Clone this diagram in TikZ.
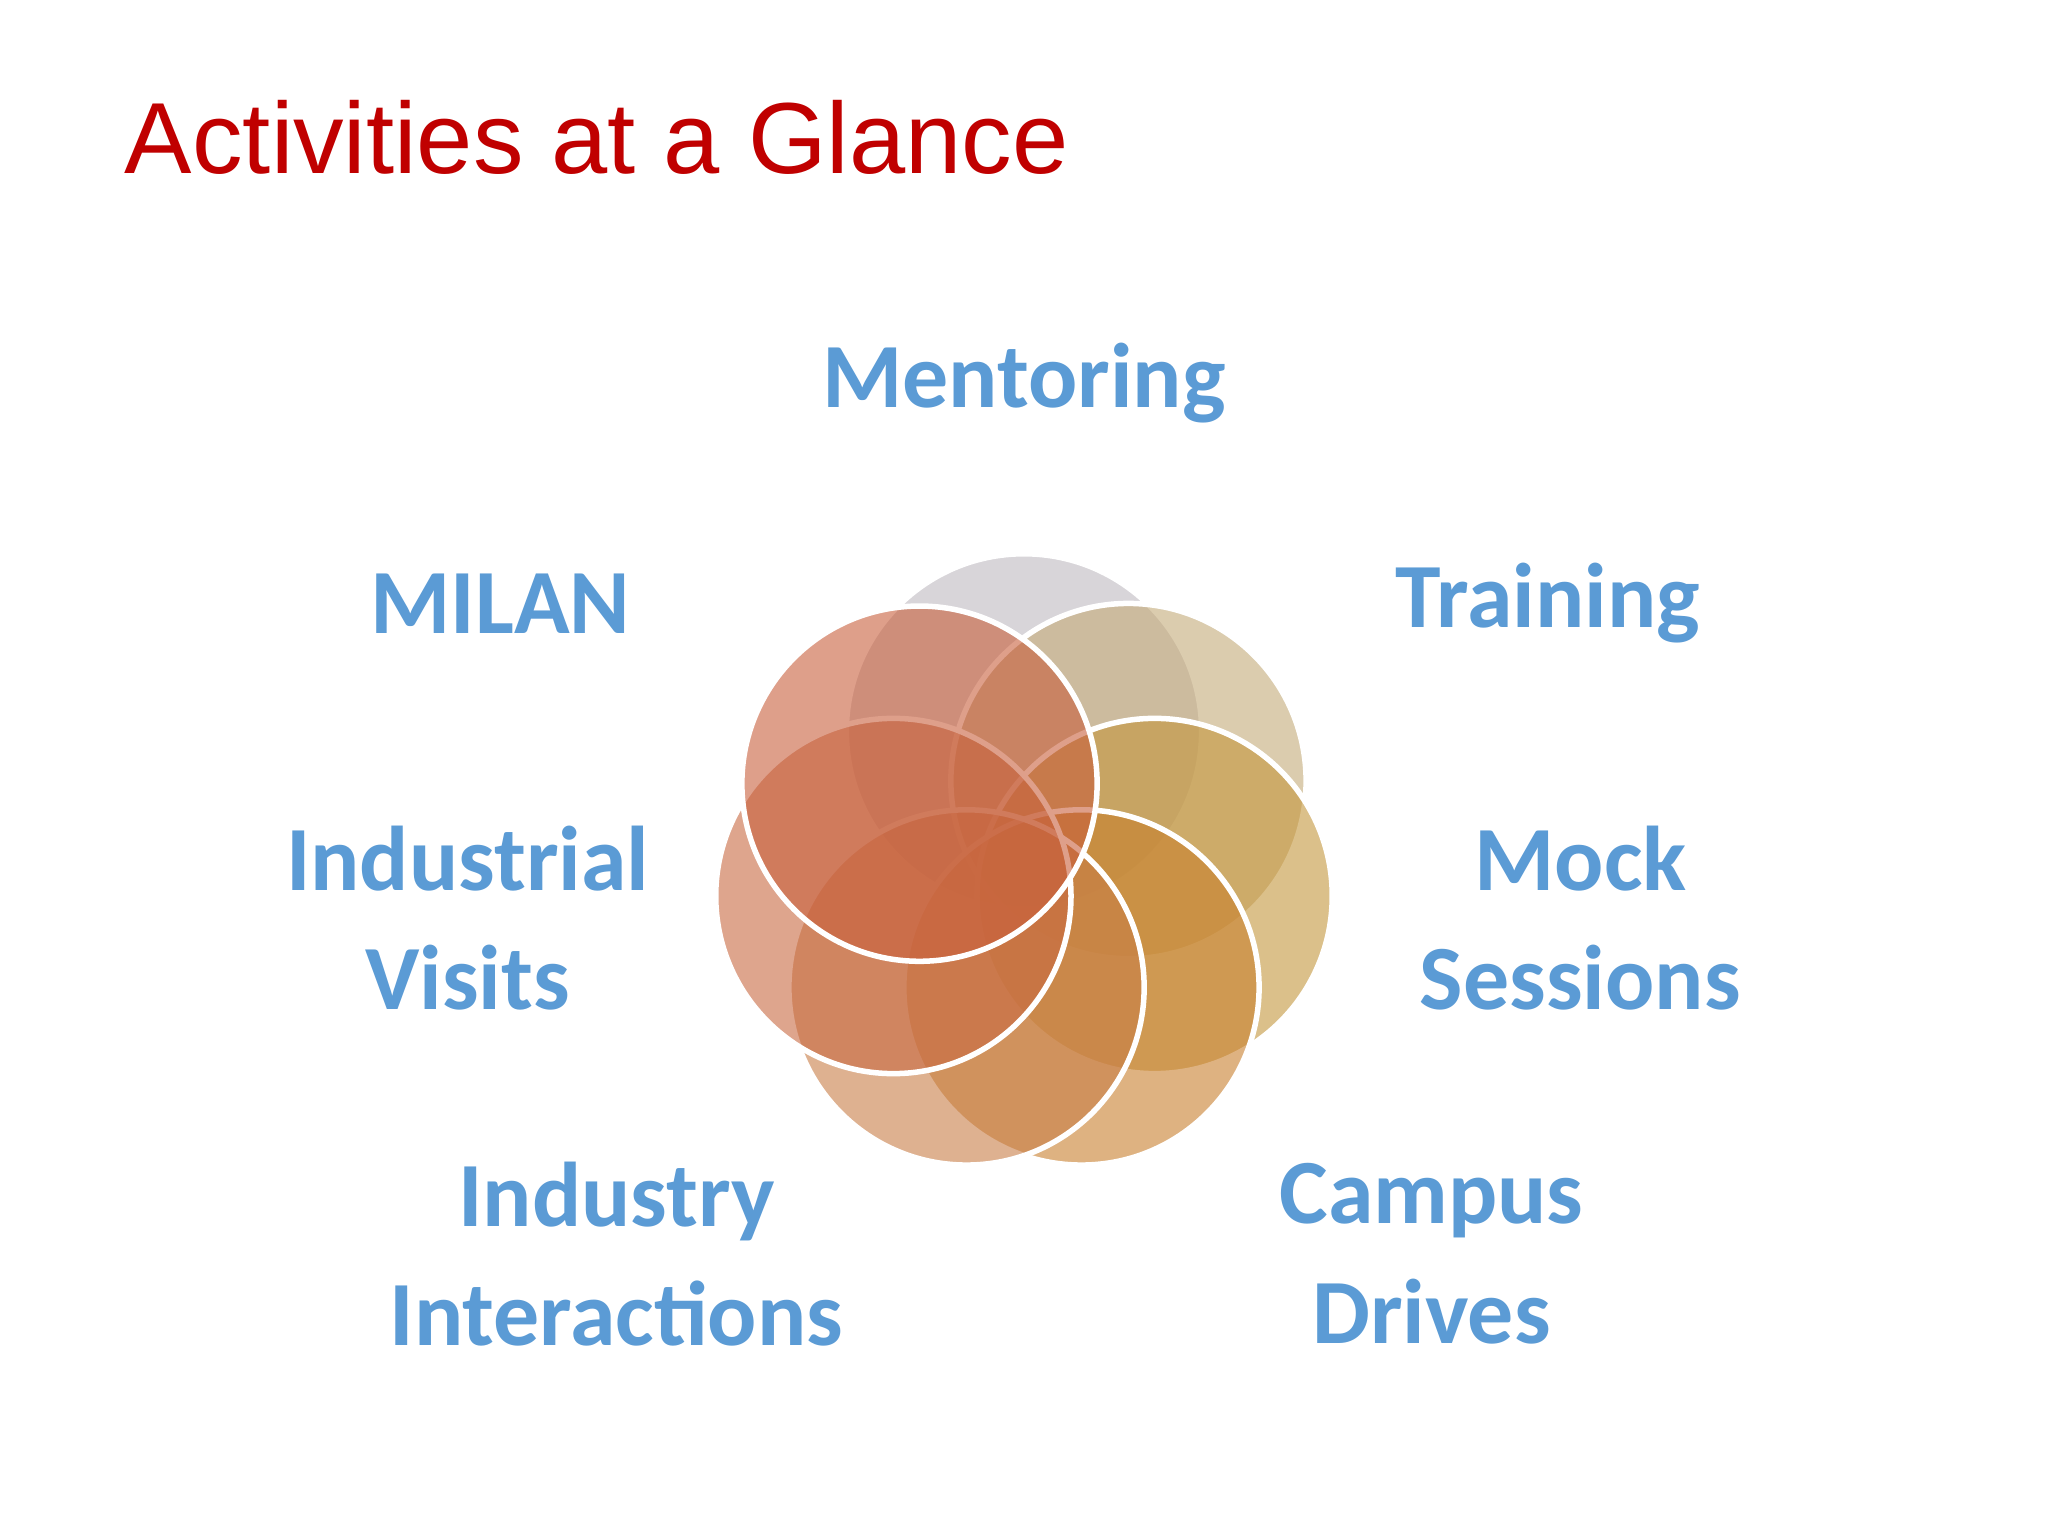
\documentclass[tikz,border=0pt]{standalone}
\usepackage{fontspec}
\setmainfont{Carlito}
\newfontfamily\titlefont{Liberation Sans}
\definecolor{lbl}{RGB}{91,155,213}
\definecolor{ttl}{RGB}{192,0,0}
\definecolor{cA}{RGB}{190,185,192}
\definecolor{cB}{RGB}{196,170,120}
\definecolor{cC}{RGB}{196,150,60}
\definecolor{cD}{RGB}{200,128,45}
\definecolor{cE}{RGB}{200,125,70}
\definecolor{cF}{RGB}{200,105,65}
\definecolor{cG}{RGB}{200,95,60}
\begin{document}
\begin{tikzpicture}[x=0.01cm,y=-0.01cm,
  lab/.style={text=lbl,font=\fontsize{20}{20}\selectfont\bfseries,align=center},
  circ/.style={fill=#1,fill opacity=0.6,draw=white,line width=1.2pt,draw opacity=1}]
\useasboundingbox (0,0) rectangle (1568,1176);
\fill[white] (0,0) rectangle (1568,1176);
\node[anchor=base west,text=ttl,font=\titlefont\fontsize{22}{22}\selectfont,inner sep=0] (title) at (95,133) {Activities at a Glance};
\path[circ=cA] (784,560) circle (136);
\path[circ=cB] (864,598) circle (136);
\path[circ=cC] (884,686) circle (136);
\path[circ=cD] (828,756) circle (136);
\path[circ=cE] (740,756) circle (136);
\path[circ=cF] (684,686) circle (136);
\path[circ=cG] (704,600) circle (136);
\node[lab] (m) at (784,293) {Mentoring};
\node[lab] (t) at (1185,462) {Training};
\node[lab] (mi) at (383,462) {MILAN};
\node[lab] (iv) at (358,703) {Industrial\\[6pt]Visits};
\node[lab] (ms) at (1210,703) {Mock\\[6pt]Sessions};
\node[lab] (ii) at (472,960) {Industry\\[6pt]Interactions};
\node[lab] (cd) at (1096,960) {Campus\\[6pt]Drives};
\end{tikzpicture}
\end{document}
